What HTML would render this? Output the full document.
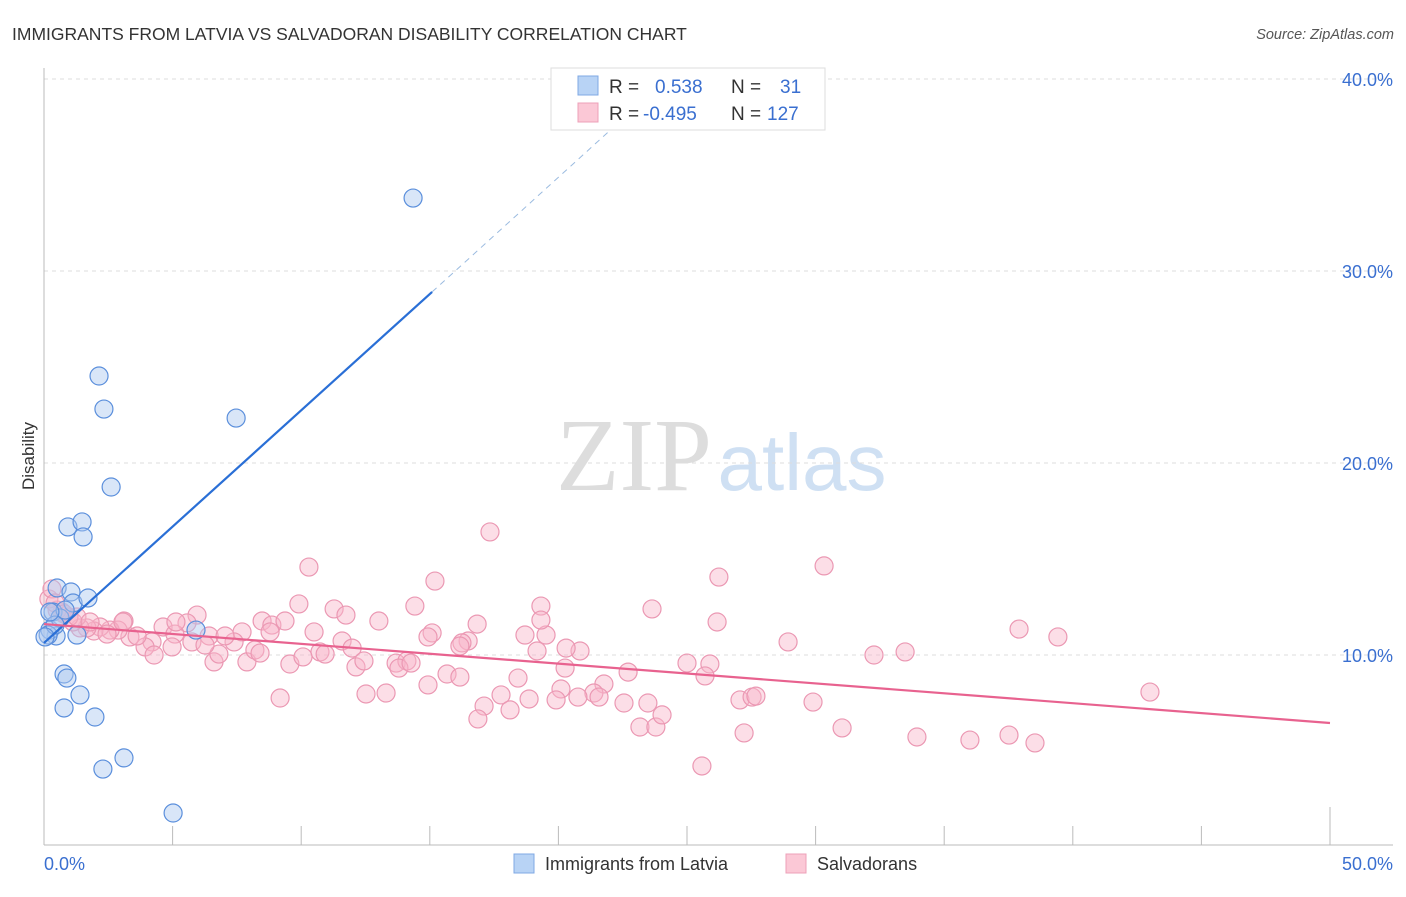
<!DOCTYPE html>
<html><head><meta charset="utf-8"><style>
body{margin:0;background:#fff;font-family:"Liberation Sans",sans-serif}
svg text{font-family:"Liberation Sans",sans-serif}
</style></head><body>
<svg width="1406" height="892" viewBox="0 0 1406 892" xmlns="http://www.w3.org/2000/svg">
<text x="12" y="40" font-size="17.5" fill="#333">IMMIGRANTS FROM LATVIA VS SALVADORAN DISABILITY CORRELATION CHART</text>
<text x="1394" y="39" font-size="14.5" fill="#555" font-style="italic" text-anchor="end">Source: ZipAtlas.com</text>
<g>
<text x="634" y="490" font-size="104" fill="#ddd" text-anchor="middle" style="font-family:'Liberation Serif',serif">ZIP</text>
<text x="802" y="490" font-size="80" fill="#cfe0f3" text-anchor="middle">atlas</text>
</g>
<g id="grid"></g>
<g id="axes"></g>
<g id="marks"></g>
<text x="34" y="456" font-size="17" fill="#333" text-anchor="middle" transform="rotate(-90 34 456)">Disability</text>
<g>
<rect x="551" y="68" width="274" height="62" fill="#fff" stroke="#ddd"/>
<rect x="578" y="76" width="20" height="19" fill="#b8d3f5" stroke="#7fa8e4"/>
<rect x="578" y="103" width="20" height="19" fill="#fbc8d6" stroke="#eea0b8"/>
<text x="609" y="93" font-size="19" fill="#333">R =</text>
<text x="655" y="93" font-size="19" fill="#3a6fd0">0.538</text>
<text x="731" y="93" font-size="19" fill="#333">N =</text>
<text x="780" y="93" font-size="19" fill="#3a6fd0">31</text>
<text x="609" y="120" font-size="19" fill="#333">R =</text>
<text x="643" y="120" font-size="19" fill="#3a6fd0">-0.495</text>
<text x="731" y="120" font-size="19" fill="#333">N =</text>
<text x="767" y="120" font-size="19" fill="#3a6fd0">127</text>
</g>
<g>
<rect x="514" y="854" width="20" height="19" fill="#b8d3f5" stroke="#7fa8e4"/>
<text x="545" y="870" font-size="18" fill="#333">Immigrants from Latvia</text>
<rect x="786" y="854" width="20" height="19" fill="#fbc8d6" stroke="#eea0b8"/>
<text x="817" y="870" font-size="18" fill="#333">Salvadorans</text>
</g>
</svg>
<script>
const yTicks=[10,20,30,40];
const yTickLabels=["10.0%","20.0%","30.0%","40.0%"];
const xTickVals=[5,10,15,20,25,30,35,40,45,50];
const blueX=[0.47,0.23,0.16,0.35,0.51,1.05,1.13,1.71,1.28,2.14,2.33,2.61,0.93,1.48,1.52,7.47,14.35,0.78,0.89,1.40,0.78,1.98,2.29,3.11,5.02,5.91,0.62,0.43,0.04,0.82,0.23];
const blueY=[10.99,11.30,11.04,12.24,13.49,13.28,12.71,12.97,11.04,24.53,22.81,18.75,16.67,16.93,16.15,22.34,33.80,9.01,8.80,7.92,7.24,6.77,4.06,4.64,1.77,11.30,11.93,11.56,10.94,12.34,12.24];
const pinkX=[17.34,10.30,15.20,26.24,30.33,14.42,19.32,23.64,11.28,11.74,13.02,16.84,26.17,37.91,39.42,28.93,32.27,33.48,18.70,19.52,15.09,14.93,16.49,16.25,20.84,19.17,11.59,11.98,9.91,8.48,8.86,9.37,8.79,10.50,10.73,10.93,12.13,12.44,13.69,14.11,13.80,14.27,9.56,10.07,7.70,7.39,7.89,8.20,8.40,6.61,6.80,6.42,7.04,5.95,5.56,4.63,5.09,5.13,5.75,6.26,4.20,3.93,4.28,4.98,3.34,3.62,3.11,2.88,2.57,2.18,1.94,1.67,1.40,1.13,0.97,0.70,0.51,0.19,0.31,0.43,0.78,1.28,20.30,20.26,22.71,25.00,25.89,25.70,21.77,21.38,21.58,20.76,20.10,19.91,18.86,17.77,18.43,17.11,18.12,16.87,15.67,16.17,14.93,12.52,13.30,9.18,22.55,23.48,23.17,23.79,24.03,27.06,27.53,27.68,29.90,27.22,31.03,33.94,36.00,37.52,38.53,43.00,25.58,19.32,16.17,3.07,2.45,1.79];
const pinkY=[16.41,14.58,13.85,14.06,14.64,12.55,12.55,12.40,12.40,12.08,11.77,11.61,11.72,11.35,10.94,10.68,10.00,10.16,11.04,11.04,11.15,10.94,10.73,10.63,10.21,10.21,10.73,10.36,12.66,11.77,11.56,11.77,11.20,11.20,10.16,10.05,9.38,9.69,9.58,9.69,9.32,9.58,9.53,9.90,11.20,10.68,9.64,10.26,10.10,9.64,10.05,10.99,10.99,12.08,11.67,11.46,11.09,11.72,10.68,10.52,10.68,10.42,10.00,10.42,10.94,10.99,11.77,11.30,11.30,11.46,11.25,11.41,11.41,11.72,11.98,12.24,12.34,12.92,13.44,12.71,12.14,11.98,10.36,9.32,9.11,9.58,9.53,8.91,8.49,8.02,7.81,7.81,8.23,7.66,7.71,7.92,8.80,7.34,7.14,6.67,9.01,8.85,8.44,7.97,8.02,7.76,7.50,7.50,6.25,6.25,6.88,7.66,7.81,7.86,7.55,5.94,6.20,5.73,5.57,5.83,5.42,8.07,4.22,11.82,10.47,11.72,11.09,11.72];
const blueLine=[0,10.63,15.09,28.91,22.4,37.8];
const pinkLine=[0,11.61,50,6.46];
const NS="http://www.w3.org/2000/svg";
const xs=v=>44+v*25.72, ys=v=>847-v*19.2;
function mk(tag,attrs,parent){const e=document.createElementNS(NS,tag);for(const k in attrs)e.setAttribute(k,attrs[k]);document.getElementById(parent).appendChild(e);return e;}
yTicks.forEach((t,i)=>{
 const l=mk('line',{x1:44,x2:1393,y1:ys(t),y2:ys(t),stroke:'#ddd','stroke-dasharray':'4,4'},'grid');
 
 
 const tx=mk('text',{x:1393,y:ys(t)+7,'font-size':18,fill:'#3a6fd0','text-anchor':'end'},'grid');
 tx.textContent=yTickLabels[i];
 
 
});
let a=mk('line',{x1:44,x2:44,y1:68,y2:845,stroke:'#bbb'},'axes');


a=mk('line',{x1:44,x2:1393,y1:845,y2:845,stroke:'#bbb'},'axes');


xTickVals.forEach(v=>{
 const t=mk('line',{x1:xs(v),x2:xs(v),y1:v==50?807:826,y2:845,stroke:'#bbb'},'axes');
 
 
});
let xl=mk('text',{x:44,y:870,'font-size':18,fill:'#3a6fd0'},'axes');xl.textContent='0.0%';


xl=mk('text',{x:1393,y:870,'font-size':18,fill:'#3a6fd0','text-anchor':'end'},'axes');xl.textContent='50.0%';


pinkX.forEach((x,i)=>{
 const c=mk('circle',{cx:xs(x),cy:ys(pinkY[i]),r:9,fill:'rgba(248,182,202,0.45)',stroke:'#eb98b3','stroke-width':1.2},'marks');
 
 
});
blueX.forEach((x,i)=>{
 const c=mk('circle',{cx:xs(x),cy:ys(blueY[i]),r:9,fill:'rgba(170,200,240,0.45)',stroke:'#5b8fdc','stroke-width':1.2},'marks');
 
 
});
let ln=mk('line',{x1:xs(blueLine[0]),y1:ys(blueLine[1]),x2:xs(blueLine[2]),y2:ys(blueLine[3]),stroke:'#2a6fd6','stroke-width':2.2},'marks');


ln=mk('line',{x1:xs(blueLine[2]),y1:ys(blueLine[3]),x2:xs(blueLine[4]),y2:ys(blueLine[5]),stroke:'#9bbbe0','stroke-width':1,'stroke-dasharray':'6,5'},'marks');


ln=mk('line',{x1:xs(pinkLine[0]),y1:ys(pinkLine[1]),x2:xs(pinkLine[2]),y2:ys(pinkLine[3]),stroke:'#e8628f','stroke-width':2.2},'marks');


</script>
</body></html>
